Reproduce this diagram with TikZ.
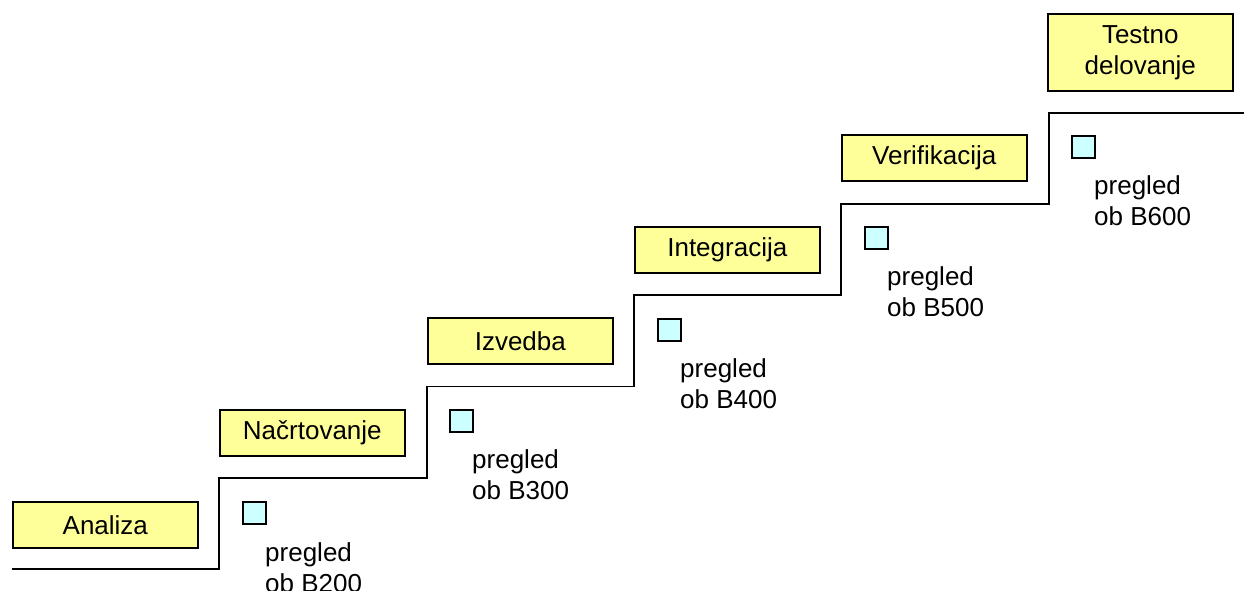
\documentclass[tikz,border=0pt]{standalone}
\usepackage{fontspec}
\setmainfont{Liberation Sans}
\definecolor{phaseyellow}{HTML}{FFFF99}
\definecolor{gatecyan}{HTML}{CCFFFF}
\begin{document}
\begin{tikzpicture}[x=1pt,y=-1pt,
  txt/.style={font=\fontsize{26}{31}\selectfont},
  phase/.style={txt,draw=black,line width=1.6pt,fill=phaseyellow,
    minimum width=185pt,minimum height=46pt,inner sep=0pt,align=center,anchor=north west},
  gate/.style={draw=black,line width=1.6pt,fill=gatecyan,
    minimum width=23pt,minimum height=22pt,inner sep=0pt,anchor=north west},
  review/.style={txt,anchor=base west,inner sep=0pt,align=left},
  stair/.style={draw=black,line width=1.8pt}]
\useasboundingbox (0,0) rectangle (1244,591);

% staircase of project phases
\draw[stair] (12,569) -- (219,569) -- (219,478) -- (427,478) -- (427,386.5)
  -- (634,386.5) -- (634,295) -- (841,295) -- (841,204) -- (1049,204)
  -- (1049,113) -- (1244,113);

% phase boxes
\node[phase] (p1) at (12,501) {Analiza};
\node[phase] (p2) at (219,409) {Načrtovanje};
\node[phase] (p3) at (427,317) {Izvedba};
\node[phase] (p4) at (634,226) {Integracija};
\node[phase] (p5) at (841,134) {Verifikacija};
\node[phase,minimum height=77pt] (p6) at (1047,13) {Testno\\delovanje};

% review gates
\node[gate] (g1) at (242,501) {};
\node[gate] (g2) at (449,409) {};
\node[gate] (g3) at (657,318) {};
\node[gate] (g4) at (864,226) {};
\node[gate] (g5) at (1071,135) {};

% review labels (base anchor sits on the second line)
\node[review] (r1) at (265,592) {pregled\\ob B200};
\node[review] (r2) at (472,499) {pregled\\ob B300};
\node[review] (r3) at (680,408) {pregled\\ob B400};
\node[review] (r4) at (887,316) {pregled\\ob B500};
\node[review] (r5) at (1094,225) {pregled\\ob B600};
\end{tikzpicture}
\end{document}
